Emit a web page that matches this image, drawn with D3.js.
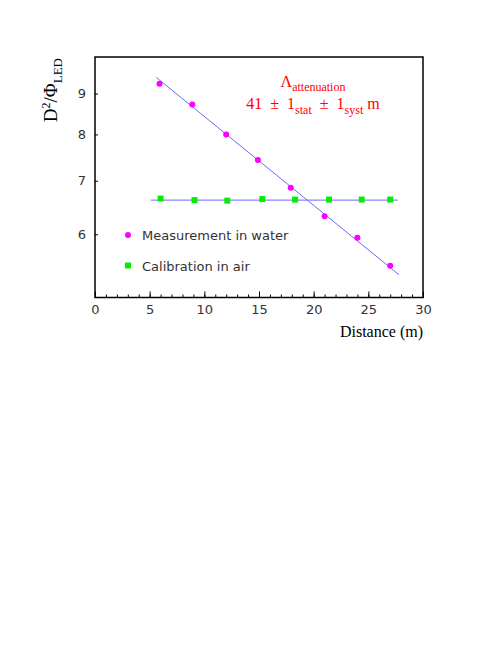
<!DOCTYPE html>
<html>
<head>
<meta charset="utf-8">
<script src="https://d3js.org/d3.v7.min.js"></script>
<style>
  body { margin: 0; background: #fff; }
  .axis text { font-family: "DejaVu Sans", sans-serif; font-size: 13px; fill: #333; }
  .axis line { stroke: #000; }
  .axis path { display: none; }
</style>
</head>
<body>
<div id="chart"></div>
<script>
// measurement in water (magenta circles)
var waterDistance = [5.9, 8.9, 12.0, 14.9, 17.9, 21.0, 24.0, 27.0]
var waterValue = [9.26, 8.72, 8.00, 7.43, 6.86, 6.32, 5.94, 5.48]

// calibration in air (green squares)
var airDistance = [6.0, 9.1, 12.1, 15.3, 18.3, 21.4, 24.4, 27.0]
var airValue = [6.65, 6.62, 6.61, 6.64, 6.63, 6.63, 6.63, 6.63]

// fitted lines, end points
var waterFitDistance = [5.6, 27.8]
var waterFitValue = [9.43, 5.34]
var airFitDistance = [5.1, 27.7]
var airFitValue = [6.62, 6.62]

var xTicksMajor = [0, 5, 10, 15, 20, 25, 30]
var xTicksMinor = d3.range(0, 31)
var yTicks = [6, 7, 8, 9]

var legendLabels = ['Measurement in water', 'Calibration in air']

var fullWidth = 498;
var fullHeight = 645;
var frame = {left: 95, right: 423, top: 57, bottom: 297.5};

var x = d3.scaleLinear().domain([0, 30]).range([frame.left, frame.right]);
var y = d3.scaleLog().domain([5, 10]).range([frame.bottom, frame.top]);

var svg = d3.select("#chart")
  .append("svg")
    .attr("width", fullWidth)
    .attr("height", fullHeight);

// x axis: minor ticks, then major ticks with labels
svg.append("g")
  .attr("class", "axis")
  .attr("transform", "translate(0," + frame.bottom + ")")
  .call(d3.axisBottom(x).tickValues(xTicksMinor).tickSize(-3).tickFormat(""));

svg.append("g")
  .attr("class", "axis")
  .attr("transform", "translate(0," + frame.bottom + ")")
  .call(d3.axisBottom(x).tickValues(xTicksMajor).tickSize(-6).tickPadding(7).tickFormat(d3.format("d")));

svg.append("g")
  .attr("class", "axis")
  .attr("transform", "translate(" + frame.left + ",0)")
  .call(d3.axisLeft(y).tickValues(yTicks).tickSize(-3).tickPadding(9).tickFormat(d3.format("d")));

// frame
svg.append("rect")
  .attr("x", frame.left)
  .attr("y", frame.top)
  .attr("width", frame.right - frame.left)
  .attr("height", frame.bottom - frame.top)
  .attr("fill", "none")
  .attr("stroke", "#000")
  .attr("stroke-width", 1.5);

// fit lines
var line = d3.line()
  .x(function(d) { return x(d[0]); })
  .y(function(d) { return y(d[1]); });

[[waterFitDistance, waterFitValue], [airFitDistance, airFitValue]].forEach(function(f) {
  svg.append("path")
    .attr("d", line(d3.zip(f[0], f[1])))
    .attr("fill", "none")
    .attr("stroke", "#6a6aff")
    .attr("stroke-width", 1);
});

// markers
svg.selectAll(".water").data(d3.zip(waterDistance, waterValue))
  .enter().append("circle")
    .attr("class", "water")
    .attr("cx", function(d) { return x(d[0]); })
    .attr("cy", function(d) { return y(d[1]); })
    .attr("r", 3)
    .attr("fill", "#ff00ff");

svg.selectAll(".air").data(d3.zip(airDistance, airValue))
  .enter().append("rect")
    .attr("class", "air")
    .attr("x", function(d) { return x(d[0]) - 3; })
    .attr("y", function(d) { return y(d[1]) - 3; })
    .attr("width", 6)
    .attr("height", 6)
    .attr("fill", "#00f000");

// legend
var legend = svg.append("g").attr("transform", "translate(128,235)");
legend.append("circle").attr("cx", 0).attr("cy", 0).attr("r", 3).attr("fill", "#ff00ff");
legend.append("rect").attr("x", -3).attr("y", 27.5).attr("width", 6).attr("height", 6).attr("fill", "#00f000");
legend.selectAll(".lbl").data(legendLabels)
  .enter().append("text")
    .attr("class", "lbl")
    .attr("x", 14)
    .attr("y", function(d, i) { return i * 30.5 + 5; })
    .style("font-family", "'DejaVu Sans', sans-serif")
    .style("font-size", "13px")
    .style("fill", "#333")
    .text(function(d) { return d; });

// axis titles
var xTitle = svg.append("text")
  .attr("x", frame.right)
  .attr("y", 337)
  .attr("text-anchor", "end")
  .style("font-family", "'Liberation Serif', serif")
  .style("font-size", "16px")
  .text("Distance (m)");

var yTitle = svg.append("text")
  .attr("transform", "translate(57,58) rotate(-90)")
  .attr("text-anchor", "end")
  .style("font-family", "'Liberation Serif', serif")
  .style("font-size", "19px");
yTitle.append("tspan").text("D");
yTitle.append("tspan").attr("dy", -7).style("font-size", "12px").text("2");
yTitle.append("tspan").attr("dy", 7).text("/Φ");
yTitle.append("tspan").attr("dy", 5).style("font-size", "13px").text("LED");

// attenuation label
var ann1 = svg.append("text")
  .attr("x", 313)
  .attr("y", 87)
  .attr("text-anchor", "middle")
  .style("font-family", "'Liberation Serif', serif")
  .style("font-size", "16px")
  .style("fill", "#ff0000");
ann1.append("tspan").text("Λ");
ann1.append("tspan").attr("dy", 4).style("font-size", "12px").text("attenuation");

var ann2 = svg.append("text")
  .attr("x", 313)
  .attr("y", 109)
  .attr("text-anchor", "middle")
  .style("font-family", "'Liberation Serif', serif")
  .style("font-size", "16px")
  .style("fill", "#ff0000")
  .attr("xml:space", "preserve");
ann2.append("tspan").text("41 \u00a0± \u00a01");
ann2.append("tspan").attr("dy", 5).style("font-size", "12px").text("stat");
ann2.append("tspan").attr("dy", -5).text(" \u00a0± \u00a01");
ann2.append("tspan").attr("dy", 5).style("font-size", "12px").text("syst");
ann2.append("tspan").attr("dy", -5).text(" m");
</script>
</body>
</html>
